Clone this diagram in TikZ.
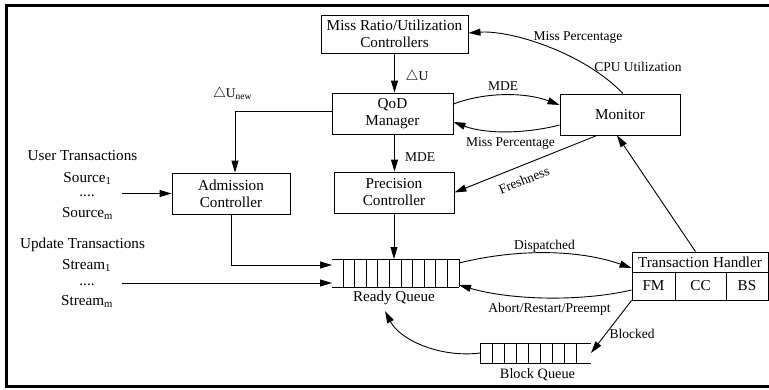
\documentclass[tikz,border=0pt]{standalone}
\usepackage{fontspec}
\setmainfont{Liberation Serif}
\usetikzlibrary{arrows.meta,calc}
\tikzset{
  box/.style={draw, line width=0.9pt, inner sep=0pt, align=center, font=\fontsize{15.2}{17}\selectfont},
  lbl/.style={font=\fontsize{13.5}{15}\selectfont, inner sep=0pt, anchor=base},
  side/.style={font=\fontsize{15.2}{17}\selectfont, inner sep=0pt, anchor=base},
  arr/.style={line width=0.9pt, -{Triangle[length=12pt,width=7pt]}},
  ln/.style={line width=0.9pt},
  hold/.style={inner sep=0pt, outer sep=0pt},
}
\begin{document}
\begin{tikzpicture}[x=1pt,y=-1pt]
\useasboundingbox (0,0) rectangle (769,389);
\draw[line width=3pt] (769,5.5) -- (6.5,5.5) -- (6.5,386) -- (769,386);

% boxes
\node[box, minimum width=147pt, minimum height=38pt] (mr) at (394.5,34) {Miss Ratio/Utilization\\Controllers};
\node[box, minimum width=121pt, minimum height=41pt] (qod) at (392.5,113.5) {QoD\\Manager};
\node[box, minimum width=120pt, minimum height=41pt] (prec) at (394,192.5) {Precision\\Controller};
\node[box, minimum width=118pt, minimum height=41pt] (adm) at (231,193.5) {Admission\\Controller};
\node[box, minimum width=120pt, minimum height=41pt] (mon) at (620,114.5) {Monitor};
\node[box, minimum width=136pt, minimum height=20pt] (th) at (700,262) {Transaction Handler};
\node[box, minimum width=43pt, minimum height=28pt] (fm) at (653.5,286) {FM};
\node[box, minimum width=51pt, minimum height=28pt] (cc) at (700.5,286) {CC};
\node[box, minimum width=42pt, minimum height=28pt] (bs) at (747,286) {BS};

% ready queue
\node[hold, minimum width=127pt, minimum height=28pt] (rq) at (395.5,273) {};
\draw[ln] (rq.north west) -- (rq.north east) (rq.south west) -- (rq.south east);
\foreach \i in {0,...,10}
  \draw[ln] ($(rq.north east)+(-\i*11.6,0)$) -- ($(rq.south east)+(-\i*11.6,0)$);
\node[side, font=\fontsize{15.1}{17}\selectfont] (rql) at (394,301) {Ready Queue};

% block queue
\node[hold, minimum width=111pt, minimum height=20pt] (bq) at (535.5,353) {};
\draw[ln] (bq.north west) -- (bq.north east) (bq.south west) -- (bq.south east);
\foreach \i in {0,...,8}
  \draw[ln] ($(bq.north west)+(\i*12,0)$) -- ($(bq.south west)+(\i*12,0)$);
\node[side, font=\fontsize{14.3}{16}\selectfont] (bql) at (537.5,378) {Block Queue};

% left texts
\node[side] (ut) at (82.5,160) {User Transactions};
\node[side] (s1) at (87.5,182) {Source\textsubscript{1}};
\node[side] (sd) at (87,196) {....};
\node[side] (sm) at (87.5,217) {Source\textsubscript{m}};
\node[side] (up) at (82.5,248) {Update Transactions};
\node[side] (t1) at (86.5,269) {Stream\textsubscript{1}};
\node[side] (td) at (87,285) {....};
\node[side] (tm) at (87,305) {Stream\textsubscript{m}};

\coordinate (srcin) at (122,193.5);
\coordinate (stin) at (122,283);
\coordinate (rqin) at (385,311);

% connectors
\draw[arr] (mr.south) -- (mr.south |- qod.north);
\node[lbl] (du) at (417,80) {$\triangle$U};

\draw[arr] ([yshift=2.5pt]qod.west) -| ([xshift=4pt]adm.north);
\node[lbl] (dun) at (232.5,97) {$\triangle$U\textsubscript{new}};

\draw[arr] ([xshift=2pt]qod.south) -- ([xshift=2pt]qod.south |- prec.north);
\node[lbl] (mde2) at (420,161.5) {MDE};

\draw[arr] ([yshift=9.5pt]qod.east) .. controls (485,92) and (525,92) .. ([yshift=9.5pt]mon.west);
\node[lbl] (mde1) at (503,90) {MDE};

\draw[arr] ([yshift=-10.5pt]mon.west) .. controls (525,134) and (485,134) .. ([yshift=-8.5pt]qod.east);
\node[lbl] (mp2) at (510.5,146) {Miss Percentage};

\draw[arr] ([xshift=3pt]mon.north) .. controls (583,52) and (510,30) .. ([yshift=1pt]mr.east);
\node[lbl] (mp1) at (578,40) {Miss Percentage};
\node[lbl] (cpu) at (638,71) {CPU Utilization};

\draw[arr] ([xshift=-23pt]mon.south) -- (prec.east);
\node[font=\fontsize{13.5}{15}\selectfont, inner sep=0pt, rotate=22] (fr) at (524,180) {Freshness};

\draw[arr] ([xshift=-4.5pt]th.north) -- ([xshift=-3pt]mon.south);

\draw[arr] (srcin) -- (adm.west);
\draw[arr] (adm.south) |- ([yshift=8pt]rq.west);
\draw[arr] (stin) -- ([yshift=-10pt]rq.west);
\draw[arr] (prec.south) -- (prec.south |- rq.north);

\draw[arr] ([yshift=10pt]rq.east) .. controls (520,248) and (580,250) .. ([yshift=-6pt]th.west);
\node[lbl] (disp) at (544.5,249) {Dispatched};

\draw[arr] ([yshift=-4pt]fm.west) .. controls (580,302) and (510,300) .. ([yshift=-12pt]rq.east);
\node[lbl] (abort) at (549.5,312) {Abort/Restart/Preempt};

\draw[arr] (fm.south west) -- (bq.east);
\node[lbl] (blk) at (632,338) {Blocked};

\draw[arr] (bq.west) .. controls (440,358) and (400,340) .. (rqin);
\end{tikzpicture}
\end{document}
